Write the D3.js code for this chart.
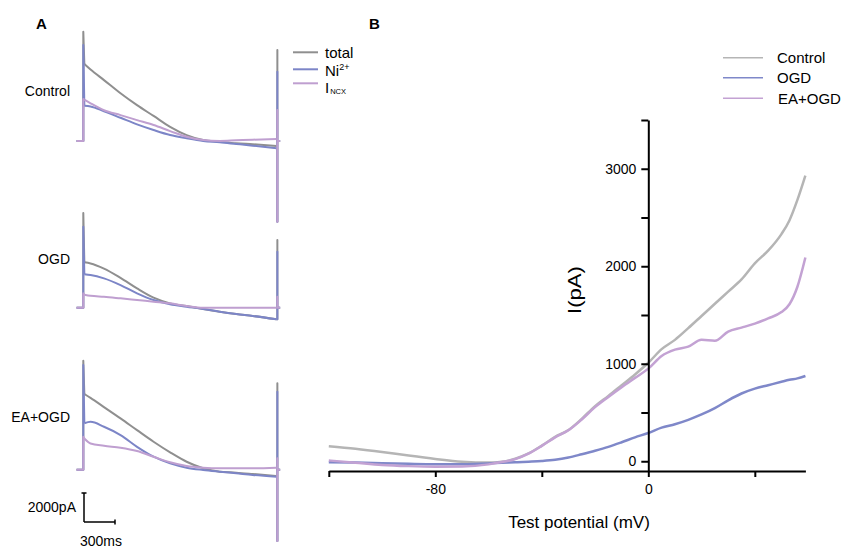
<!DOCTYPE html>
<html>
<head>
<meta charset="utf-8">
<script src="https://cdn.jsdelivr.net/npm/d3@7"></script>
<style>
  body { margin: 0; background: #fff; }
  svg { display: block; font-family: "Liberation Sans", Arial, sans-serif; }
</style>
</head>
<body>
<div id="chart"></div>
<script>
// ---- Panel A: current traces (pA) sampled at these times (ms) ----
const traceTimes = [10, 70, 200, 360, 520, 680, 840, 1000, 1160, 1320, 1480, 1640, 1870];
const conditionsA = ["Control", "OGD", "EA+OGD"];
const traceNames = ["total", "Ni2+", "INCX"];

const controlTotal = [5310, 4930, 4200, 3290, 2470, 1730, 980, 410, 70, -45, -155, -225, -345];
const controlNi    = [2430, 2380, 2050, 1600, 1145, 755, 410, 185, 0, -90, -205, -320, -500];
const controlNcx   = [2850, 2600, 2120, 1785, 1440, 1100, 685, 295, 70, 0, 45, 90, 135];
const ogdTotal     = [3130, 3050, 2700, 2060, 1330, 690, 300, 115, -90, -275, -435, -570, -800];
const ogdNi        = [2300, 2250, 2020, 1560, 990, 530, 235, 70, -90, -275, -435, -570, -800];
const ogdNcx       = [900, 820, 755, 645, 530, 415, 300, 115, 0, 0, 0, 0, 0];
const eaTotal      = [5220, 4950, 4320, 3540, 2730, 1930, 1200, 550, 100, -140, -205, -295, -435];
const eaNi         = [3200, 3300, 2960, 2390, 1580, 895, 440, 140, -20, -140, -250, -365, -485];
const eaNcx        = [2150, 1810, 1650, 1515, 1285, 895, 510, 255, 140, 95, 95, 95, 140];

// capacitive spikes (pA): onset peak, end peak, end trough  [total, Ni, INCX]
const onsetSpike  = [[7540, 6620, 2900], [6530, 5590, 990], [7520, 7220, 2280]];
const endSpikeTop = [[6280, 4780, 2140], [4670, 3860, 760], [5960, 5380, 790]];
const endSpikeLow = [[-5570, -5570, -5570], [-800, -800, 0], [-4920, -4920, -4920]];

// ---- Panel B: I-V curves ----
const voltages = [-120, -110, -100, -90, -80, -70, -60, -55, -50, -45, -40, -35, -30, -25, -20, -15,
                  -10, -5, 0, 5, 10, 15, 20, 25, 30, 35, 40, 45, 50, 53, 56, 59];
const ivControl = [155, 128, 95, 58, 24, -4, -14, -5, 25, 80, 160, 250, 320, 435, 565, 670,
                   780, 890, 1010, 1150, 1245, 1365, 1490, 1615, 1740, 1865, 2030, 2160, 2330, 2470, 2680, 2930];
const ivOgd     = [-10, -14, -20, -26, -30, -30, -22, -15, -10, -4, 3, 15, 38, 72, 108, 148,
                   195, 245, 290, 345, 380, 425, 480, 545, 625, 695, 745, 780, 815, 835, 850, 875];
const ivEaOgd   = [8, -15, -38, -50, -56, -54, -32, -8, 22, 78, 158, 245, 318, 428, 555, 660,
                   760, 855, 950, 1080, 1145, 1175, 1245, 1235, 1330, 1370, 1412, 1465, 1530, 1610, 1790, 2090];
const seriesB = ["Control", "OGD", "EA+OGD"];
const xTicksB = [-120, -80, -40, 0, 40];
const yTicksB = [0, 500, 1000, 1500, 2000, 2500, 3000, 3500];

const colorsA = ["#8f8f8f", "#7c85c7", "#bf9fd0"];
const colorsB = ["#b5b5b5", "#7f88c9", "#c3a2d3"];

const svg = d3.select("#chart").append("svg")
  .attr("width", 844).attr("height", 548)
  .style("background", "#fff");

// ===== Panel A =====
const tx = d3.scaleLinear().domain([0, 300]).range([83.3, 114.3]);
const baselines = [141, 307.7, 469.7];
const tracesA = [
  [controlTotal, controlNi, controlNcx],
  [ogdTotal, ogdNi, ogdNcx],
  [eaTotal, eaNi, eaNcx]
];
const tEnd = 1878;

svg.append("text").attr("x", 36).attr("y", 29)
  .attr("font-size", 15).attr("font-weight", "bold").text("A");
svg.append("text").attr("x", 369).attr("y", 29)
  .attr("font-size", 15).attr("font-weight", "bold").text("B");

const labelY = [96, 264, 421.7];
tracesA.forEach((group, gi) => {
  const base = baselines[gi];
  const iy = d3.scaleLinear().domain([0, 2000]).range([base, base - 29]);
  const smooth = d3.line().x(d => tx(d[0])).y(d => iy(d[1])).curve(d3.curveMonotoneX);
  const straight = d3.line().x(d => tx(d[0])).y(d => iy(d[1]));
  const g = svg.append("g");

  group.forEach((vals, si) => {
    const pts = traceTimes.map((t, i) => [t, vals[i]]);
    const last = vals[vals.length - 1];
    const pre = [[-65, 0], [0, 0], [0, onsetSpike[gi][si]], [traceTimes[0], vals[0]]];
    const post = [[traceTimes[traceTimes.length - 1], last], [tEnd, last], [tEnd, endSpikeTop[gi][si]],
                  [tEnd, endSpikeLow[gi][si]], [tEnd, 0], [1905, 0]];
    [straight(pre), smooth(pts), straight(post)].forEach(d => {
      g.append("path").attr("d", d)
        .attr("fill", "none").attr("stroke", colorsA[si])
        .attr("stroke-width", 2).attr("stroke-linejoin", "round");
    });
  });

  svg.append("text").attr("x", 70).attr("y", labelY[gi])
    .attr("text-anchor", "end").attr("font-size", 14).text(conditionsA[gi]);
});

// legend A
const legA = svg.append("g");
const legAy = [52.3, 69.3, 83.3];
traceNames.forEach((n, i) => {
  legA.append("line").attr("x1", 293).attr("x2", 318)
    .attr("y1", legAy[i]).attr("y2", legAy[i])
    .attr("stroke", colorsA[i]).attr("stroke-width", 2);
});
legA.append("text").attr("x", 325).attr("y", 57.5).attr("font-size", 15).text("total");
const niT = legA.append("text").attr("x", 325).attr("y", 75.5).attr("font-size", 15);
niT.append("tspan").text("Ni");
niT.append("tspan").attr("font-size", 9).attr("dy", -6).text("2+");
const ncxT = legA.append("text").attr("x", 325).attr("y", 93).attr("font-size", 15);
ncxT.append("tspan").text("I");
ncxT.append("tspan").attr("font-size", 7.5).attr("dy", 1).attr("dx", 1).text("NCX");

// scale bar (2000 pA, 300 ms)
const sb = svg.append("g").attr("stroke", "#000").attr("stroke-width", 1.5);
const sbY = d3.scaleLinear().domain([0, 2000]).range([522, 493]);
const x0 = 84;
sb.append("line").attr("x1", x0).attr("x2", x0).attr("y1", sbY(0)).attr("y2", sbY(2000));
sb.append("line").attr("x1", x0 - 2.5).attr("x2", x0 + 2.5).attr("y1", sbY(2000)).attr("y2", sbY(2000));
sb.append("line").attr("x1", x0).attr("x2", x0 + (tx(300) - tx(0))).attr("y1", sbY(0)).attr("y2", sbY(0));
sb.append("line").attr("x1", x0 + (tx(300) - tx(0))).attr("x2", x0 + (tx(300) - tx(0)))
  .attr("y1", sbY(0) - 2.5).attr("y2", sbY(0) + 2.5);
svg.append("text").attr("x", 76).attr("y", 512).attr("text-anchor", "end")
  .attr("font-size", 14).text("2000pA");
svg.append("text").attr("x", 80).attr("y", 546).attr("font-size", 14).text("300ms");

// ===== Panel B =====
const x = d3.scaleLinear().domain([-120, 59]).range([328.8, 805.4]);
const y = d3.scaleLinear().domain([-100, 3500]).range([471, 120]);

const ivData = [ivControl, ivOgd, ivEaOgd];
const lineB = d3.line().x(d => x(d[0])).y(d => y(d[1])).curve(d3.curveMonotoneX);
ivData.forEach((vals, i) => {
  svg.append("path")
    .attr("d", lineB(voltages.map((v, k) => [v, vals[k]])))
    .attr("fill", "none").attr("stroke", colorsB[i]).attr("stroke-width", 2.5);
});

const xAxis = svg.append("g").attr("transform", `translate(0,${y(-100)})`)
  .call(d3.axisBottom(x).tickValues(xTicksB).tickSize(6).tickSizeOuter(0).tickPadding(7)
    .tickFormat(d => (d === -80 || d === 0) ? d : ""));
const yAxis = svg.append("g").attr("transform", `translate(${x(0)},0)`)
  .call(d3.axisLeft(y).tickValues(yTicksB).tickSize(7).tickSizeOuter(0).tickPadding(5)
    .tickFormat(d => d % 1000 === 0 ? d : ""));
[xAxis, yAxis].forEach(a => {
  a.selectAll("path, line").attr("stroke", "#000").attr("stroke-width", 2);
  a.selectAll("text").attr("fill", "#000").attr("font-size", 14)
    .attr("font-family", "Liberation Sans, Arial, sans-serif");
});

svg.append("text").attr("x", 579).attr("y", 528).attr("text-anchor", "middle")
  .attr("font-size", 17).text("Test potential (mV)");
svg.append("text").attr("transform", "translate(581,290) rotate(-90)")
  .attr("text-anchor", "middle").attr("font-size", 18)
  .attr("textLength", 48).attr("lengthAdjust", "spacingAndGlyphs").text("I(pA)");

// legend B
const legBy = [57.7, 77.7, 98.3];
seriesB.forEach((n, i) => {
  svg.append("line").attr("x1", 723).attr("x2", 763)
    .attr("y1", legBy[i]).attr("y2", legBy[i])
    .attr("stroke", colorsB[i]).attr("stroke-width", 1.5);
  svg.append("text").attr("x", i === 2 ? 778 : 777).attr("y", legBy[i] + 5.3)
    .attr("font-size", 15).text(n);
});
</script>
</body>
</html>
